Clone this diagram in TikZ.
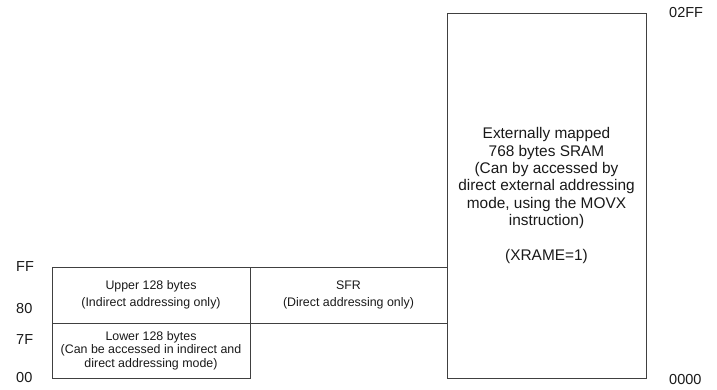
\documentclass[tikz,border=0pt]{standalone}
\usepackage{fontspec}
\setmainfont{Liberation Sans}
\begin{document}
\begin{tikzpicture}[x=1pt,y=-1pt,
  mem/.style={draw=black!75,line width=0.9pt,inner sep=0pt,align=center,
    text=black!90,font=\fontsize{12.4}{13.7}\selectfont},
  addr/.style={anchor=west,inner sep=0pt,text=black!90,
    font=\fontsize{14.5}{16}\selectfont}]
  \useasboundingbox (0,0) rectangle (717,390);
  % internal RAM
  \node[mem,minimum width=198pt,minimum height=56pt] (upper) at (151,295)
        {Upper 128 bytes\\[3pt](Indirect addressing only)};
  \node[mem,minimum width=197pt,minimum height=56pt] (sfr) at (348.5,295)
        {SFR\\[3pt](Direct addressing only)};
  \node[mem,minimum width=198pt,minimum height=55pt] (lower) at (151,350.5)
        {Lower 128 bytes\\(Can be accessed in indirect and\\direct addressing mode)};
  % external RAM
  \node[mem,minimum width=199pt,minimum height=365pt,
        font=\fontsize{15.4}{17.3}\selectfont] (xram) at (546.5,195.5)
        {Externally mapped\\768 bytes SRAM\\(Can by accessed by\\direct external addressing\\
         mode, using the MOVX\\instruction)\\[17.3pt](XRAME=1)};
  % addresses
  \node[addr] (aFF) at (16,267) {FF};
  \node[addr] (a80) at (16,309) {80};
  \node[addr] (a7F) at (16,340) {7F};
  \node[addr] (a00) at (16,378) {00};
  \node[addr] (x2FF) at (669,13) {02FF};
  \node[addr] (x000) at (669,380) {0000};
\end{tikzpicture}
\end{document}
